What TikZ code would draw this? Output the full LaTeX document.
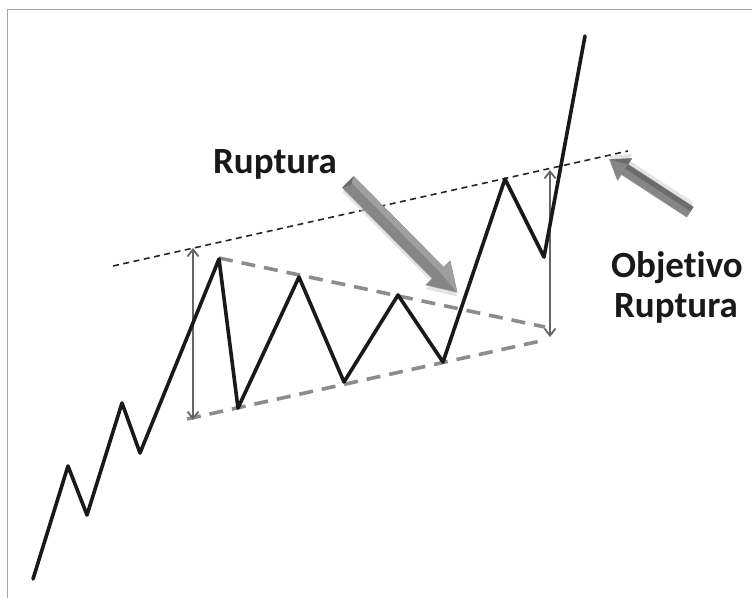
\documentclass[tikz,border=0pt]{standalone}
\usepackage{fontspec}
\setmainfont{Carlito}[Ligatures={NoCommon,NoDiscretionary,NoContextual}]
\usetikzlibrary{arrows.meta}
\begin{document}
\begin{tikzpicture}[x=1pt,y=-1pt,
  price/.style={line width=3.6pt, line join=round, line cap=round, black!90},
  resist/.style={line width=1.6pt, dash pattern=on 6pt off 4.5pt, black!85},
  wedge/.style={line width=3.6pt, dash pattern=on 14pt off 9pt, gray!90},
  measure/.style={line width=1.8pt, gray!80!black, {Straight Barb[length=7pt,width=11pt]}-{Straight Barb[length=7pt,width=11pt]}},
  bigarrow/.style={fill=gray!95, draw=gray!85, line width=0.6pt, line join=round},
  label/.style={font=\bfseries\fontsize{37}{44}\selectfont, text=black!90, inner sep=0pt}
]
\useasboundingbox (0,0) rectangle (752,597);
\fill[white] (0,0) rectangle (752,597);
\draw[gray!70, line width=1pt] (7,9) -- (760,9);
\draw[gray!70, line width=1pt] (7,9) -- (7,605);

% price path points
\coordinate (p0) at (33,579);
\coordinate (p1) at (68,466);
\coordinate (p2) at (87,515);
\coordinate (p3) at (122,403);
\coordinate (p4) at (140,453);
\coordinate (p5) at (219,259);
\coordinate (p6) at (238,408);
\coordinate (p7) at (299,277);
\coordinate (p8) at (344,382);
\coordinate (p9) at (398,295);
\coordinate (p10) at (443,362);
\coordinate (p11) at (505,179);
\coordinate (p12) at (544,257);
\coordinate (p13) at (585,36);

% resistance line
\coordinate (r0) at (113,266);
\coordinate (r1) at (628,151);
\draw[resist] (r0) -- (r1);

% wedge lines
\coordinate (u0) at (219,258);
\coordinate (u1) at (545,327);
\coordinate (l0) at (187,419);
\coordinate (l1) at (545,340);
\draw[wedge] (u0) -- (u1);
\draw[wedge] (l0) -- (l1);

% measuring arrows
\coordinate (m0) at (193,248);
\coordinate (m1) at (193,420);
\coordinate (n0) at (550,170);
\coordinate (n1) at (550,337);
\draw[measure] (m0) -- (m1);
\draw[measure] (n0) -- (n1);

\draw[price] (p0) -- (p1) -- (p2) -- (p3) -- (p4) -- (p5) -- (p6) -- (p7) -- (p8) -- (p9) -- (p10) -- (p11) -- (p12) -- (p13);

% big 3D arrows
\begin{scope}[shift={(348,182)}, rotate=-45.3]
  \fill[gray!35, opacity=0.6] (3,-5) -- (131,-5) -- (131,-14) -- (158,3) -- (131,20) -- (131,11) -- (3,11) -- cycle;
  \path[bigarrow] (0,-8) -- (128,-8) -- (128,-17) -- (155,0) -- (128,17) -- (128,8) -- (0,8) -- cycle;
  \fill[gray!75] (0,-8) -- (128,-8) -- (128,-17) -- (155,0) -- (128,-2) -- (0,-2) -- cycle;
  \fill[gray!85!black] (0,-8) -- (4,0) -- (0,8) -- cycle;
\end{scope}
\begin{scope}[shift={(690,212)}, rotate=146.9]
  \fill[gray!35, opacity=0.6] (3,-4) -- (80,-4) -- (80,-11) -- (98,3) -- (80,17) -- (80,10) -- (3,10) -- cycle;
  \path[bigarrow] (0,-6) -- (78,-6) -- (78,-13) -- (96,0) -- (78,13) -- (78,6) -- (0,6) -- cycle;
  \fill[gray!85!black] (0,1) -- (78,1) -- (78,13) -- (96,0) -- (78,6) -- (0,6) -- cycle;
\end{scope}

\node[label, anchor=base] (brk) at (275,173) {Ruptura};
\node[label, anchor=base] (obj1) at (677,277) {Objetivo};
\node[label, anchor=base] (obj2) at (676,317) {Ruptura};
\end{tikzpicture}
\end{document}
